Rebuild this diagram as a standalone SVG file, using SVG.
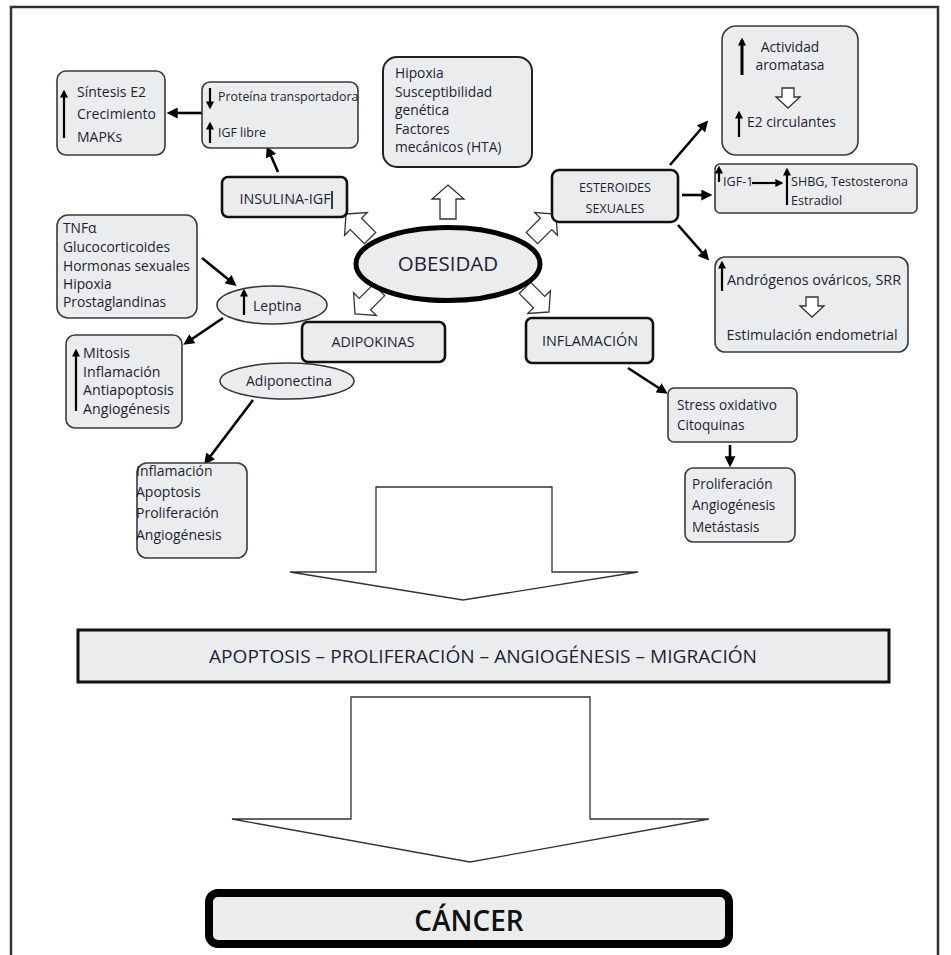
<svg xmlns="http://www.w3.org/2000/svg" width="951" height="955" viewBox="0 0 951 955">
<style>
.bx{fill:#ebeced;stroke:#3a3a3a;stroke-width:1.6}
.bk{fill:#ebeced;stroke:#111;stroke-width:2.6}
.t{font-family:"Open Sans","Noto Sans","DejaVu Sans",sans-serif;fill:#1e1e34;font-size:14px}
.c{text-anchor:middle}
.ar{stroke:#000;stroke-width:2.6;fill:none;marker-end:url(#ah)}
.ia{stroke:#000;stroke-width:2.2;fill:none;marker-end:url(#sh)}
.ho{fill:#fff;stroke:#333;stroke-width:1.3}
</style>
<defs>
<marker id="ah" viewBox="0 0 10 10" refX="7" refY="5" markerWidth="11" markerHeight="11" markerUnits="userSpaceOnUse" orient="auto"><path d="M0,0 L10,5 L0,10 z" fill="#000"/></marker>
<marker id="sh" viewBox="0 0 10 10" refX="7" refY="5" markerWidth="8" markerHeight="8" markerUnits="userSpaceOnUse" orient="auto"><path d="M0,0 L10,5 L0,10 z" fill="#000"/></marker>
<polygon id="hollow" points="0,0 16,14 8,14 8,34 -8,34 -8,14 -16,14"/>
<polygon id="hsmall" points="-6,0 6,0 6,9 12,9 0,20 -12,9 -6,9"/>
</defs>
<rect width="951" height="955" fill="#fff"/>
<path d="M11,955 V7 H938 V955" fill="none" stroke="#333" stroke-width="2.5"/>

<g id="connectors">
<line class="ar" x1="202" y1="113" x2="170" y2="113"/>
<line class="ar" x1="278" y1="172" x2="268" y2="149"/>
<line class="ar" x1="202" y1="258" x2="234" y2="284"/>
<line class="ar" x1="223" y1="318" x2="186" y2="343"/>
<line class="ar" x1="253" y1="400" x2="206" y2="462"/>
<line class="ar" x1="670" y1="165" x2="706" y2="123"/>
<line class="ar" x1="682" y1="195" x2="709" y2="195"/>
<line class="ar" x1="678" y1="225" x2="707" y2="258"/>
<line class="ar" x1="628" y1="368" x2="665" y2="392"/>
<line class="ar" x1="730" y1="445" x2="730" y2="464"/>
<use href="#hollow" class="ho" transform="translate(448,185)"/>
<use href="#hollow" class="ho" transform="translate(346,214) rotate(-45)"/>
<use href="#hollow" class="ho" transform="translate(556,214) rotate(45)"/>
<use href="#hollow" class="ho" transform="translate(355,314) rotate(-135)"/>
<use href="#hollow" class="ho" transform="translate(549,312) rotate(135)"/>
<polygon class="ho" points="376,487 552,487 552,572 638,572 463,600 290,572 376,572"/>
<polygon class="ho" points="351,697 590,697 590,819 709,819 470,862 232,819 351,819"/>
</g>

<g id="sintesis">
<rect class="bx" x="57" y="71" width="108" height="84" rx="9"/>
<line class="ia" x1="64" y1="138" x2="64" y2="92"/>
<text class="t" x="77" y="97">Síntesis E2</text>
<text class="t" x="77" y="119">Crecimiento</text>
<text class="t" x="77" y="142">MAPKs</text>
</g>

<g id="proteina">
<rect class="bx" x="202" y="82" width="156" height="66" rx="8"/>
<line class="ia" x1="210" y1="88" x2="210" y2="107"/>
<line class="ia" x1="210" y1="143" x2="210" y2="124"/>
<text class="t" x="218" y="101" style="font-size:12.4px">Proteína transportadora</text>
<text class="t" x="218" y="137" style="font-size:12.4px">IGF libre</text>
</g>

<g id="insulina">
<rect class="bk" x="222" y="177" width="125" height="40" rx="6"/>
<text class="t c" x="285" y="204" style="font-size:14.4px">INSULINA-IGF</text>
<line x1="332" y1="191" x2="332" y2="209" stroke="#000" stroke-width="1.5"/>
</g>

<g id="hipoxia">
<rect class="bx" x="383" y="57" width="149" height="110" rx="14" style="stroke-width:2;stroke:#222"/>
<text class="t" x="395" y="78" style="font-size:13.8px">Hipoxia</text>
<text class="t" x="395" y="97" style="font-size:13.8px">Susceptibilidad</text>
<text class="t" x="395" y="115" style="font-size:13.8px">genética</text>
<text class="t" x="395" y="134" style="font-size:13.8px">Factores</text>
<text class="t" x="395" y="152" style="font-size:13.8px">mecánicos (HTA)</text>
</g>

<g id="actividad">
<rect class="bx" x="722" y="26" width="136" height="129" rx="14"/>
<line class="ia" x1="742" y1="75" x2="742" y2="40" style="stroke-width:3"/>
<text class="t c" x="790" y="52" style="font-size:13.8px">Actividad</text>
<text class="t c" x="790" y="70" style="font-size:13.8px">aromatasa</text>
<use href="#hsmall" class="ho" transform="translate(788,88)"/>
<text class="t" x="747" y="127" style="font-size:13.8px">E2 circulantes</text>
<line class="ia" x1="739" y1="137" x2="739" y2="113"/>
</g>

<g id="esteroides">
<rect class="bk" x="552" y="170" width="126" height="52" rx="7"/>
<text class="t c" x="615" y="192" style="font-size:12.6px">ESTEROIDES</text>
<text class="t c" x="615" y="213" style="font-size:12.6px">SEXUALES</text>
</g>

<g id="igf1">
<rect class="bx" x="715" y="164" width="202" height="49" rx="5"/>
<line class="ia" x1="719" y1="182" x2="719" y2="168"/>
<text class="t" x="723" y="186" style="font-size:12.6px">IGF-1</text>
<line class="ia" x1="752" y1="183" x2="781" y2="183"/>
<line class="ia" x1="787" y1="205" x2="787" y2="170"/>
<text class="t" x="791" y="186" style="font-size:12.6px">SHBG, Testosterona</text>
<text class="t" x="791" y="205" style="font-size:12.6px">Estradiol</text>
</g>

<g id="androgenos">
<rect class="bx" x="715" y="257" width="193" height="95" rx="10"/>
<line class="ia" x1="722" y1="291" x2="722" y2="263"/>
<text class="t" x="727" y="285" style="font-size:14.4px">Andrógenos ováricos, SRR</text>
<use href="#hsmall" class="ho" transform="translate(812,297)"/>
<text class="t c" x="812" y="340" style="font-size:14.4px">Estimulación endometrial</text>
</g>

<g id="obesidad">
<ellipse cx="448" cy="264" rx="92" ry="36.5" fill="#ebeced" stroke="#000" stroke-width="5"/>
<text class="t c" x="448" y="271" style="font-size:20.5px">OBESIDAD</text>
</g>

<g id="adipokinas">
<rect class="bk" x="302" y="322" width="143" height="40" rx="6"/>
<text class="t c" x="373" y="347" style="font-size:14.2px">ADIPOKINAS</text>
</g>

<g id="inflamacion">
<rect class="bk" x="526" y="318" width="127" height="45" rx="6"/>
<text class="t c" x="590" y="346" style="font-size:14.4px">INFLAMACIÓN</text>
</g>

<g id="tnf">
<rect class="bx" x="57" y="215" width="140" height="103" rx="11"/>
<text class="t" x="63" y="233" style="font-size:13.8px">TNFα</text>
<text class="t" x="63" y="252" style="font-size:13.8px">Glucocorticoides</text>
<text class="t" x="63" y="271" style="font-size:13.8px">Hormonas sexuales</text>
<text class="t" x="63" y="289" style="font-size:13.8px">Hipoxia</text>
<text class="t" x="63" y="307" style="font-size:13.8px">Prostaglandinas</text>
</g>

<g id="leptina">
<ellipse cx="272" cy="305" rx="55" ry="19" fill="#ebeced" stroke="#333" stroke-width="1.5"/>
<line class="ia" x1="244" y1="315" x2="244" y2="291"/>
<text class="t" x="253" y="311">Leptina</text>
</g>

<g id="mitosis">
<rect class="bx" x="66" y="335" width="116" height="93" rx="9"/>
<line class="ia" x1="76" y1="411" x2="76" y2="351"/>
<text class="t" x="83" y="358" style="font-size:14.2px">Mitosis</text>
<text class="t" x="83" y="377" style="font-size:14.2px">Inflamación</text>
<text class="t" x="83" y="395" style="font-size:14.2px">Antiapoptosis</text>
<text class="t" x="83" y="414" style="font-size:14.2px">Angiogénesis</text>
</g>

<g id="adiponectina">
<ellipse cx="287" cy="381" rx="67" ry="18" fill="#ebeced" stroke="#333" stroke-width="1.5"/>
<text class="t c" x="289" y="386">Adiponectina</text>
</g>

<g id="inflamacion-list">
<rect class="bx" x="137" y="463" width="110" height="95" rx="10"/>
<text class="t" x="136" y="476">Inflamación</text>
<text class="t" x="136" y="497">Apoptosis</text>
<text class="t" x="136" y="518">Proliferación</text>
<text class="t" x="136" y="540">Angiogénesis</text>
</g>

<g id="stress">
<rect class="bx" x="668" y="388" width="129" height="54" rx="6"/>
<text class="t" x="677" y="410" style="font-size:13.6px">Stress oxidativo</text>
<text class="t" x="677" y="430" style="font-size:13.6px">Citoquinas</text>
</g>

<g id="proliferacion">
<rect class="bx" x="685" y="468" width="110" height="74" rx="8"/>
<text class="t" x="692" y="489" style="font-size:13.6px">Proliferación</text>
<text class="t" x="692" y="510" style="font-size:13.6px">Angiogénesis</text>
<text class="t" x="692" y="532" style="font-size:13.6px">Metástasis</text>
</g>

<g id="procesos">
<rect x="78" y="630" width="811" height="52" fill="#ebeced" stroke="#111" stroke-width="3"/>
<text class="t c" x="483" y="663" style="font-size:19px" textLength="548" lengthAdjust="spacingAndGlyphs">APOPTOSIS – PROLIFERACIÓN – ANGIOGÉNESIS – MIGRACIÓN</text>
</g>

<g id="cancer">
<rect x="209" y="893" width="520" height="51" rx="9" fill="#ebeced" stroke="#000" stroke-width="8"/>
<text class="t c" x="469" y="931" style="font-size:28px;font-weight:600;fill:#111">CÁNCER</text>
</g>
</svg>
